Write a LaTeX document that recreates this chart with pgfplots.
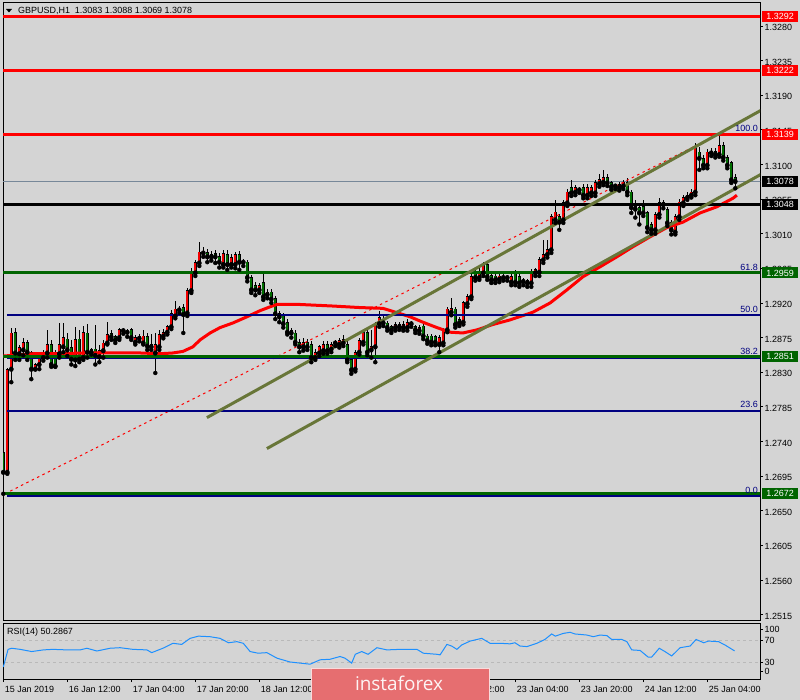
\documentclass[border=0pt]{standalone}
\usepackage{pgfplots}
\pgfplotsset{compat=1.18}
\usepackage{pgfplotstable}
\usepackage{fontspec}
\setmainfont{Liberation Sans}
\newfontfamily\logofont{Open Sans}
\newcommand\mt{\fontsize{9}{10}\selectfont}

\definecolor{chartbg}{RGB}{212,212,212}
\definecolor{bull}{RGB}{240,0,0}
\definecolor{bear}{RGB}{0,110,0}
\definecolor{lvlgreen}{RGB}{0,100,0}
\definecolor{fibblue}{RGB}{0,0,128}
\definecolor{chan}{RGB}{104,118,56}
\definecolor{slate}{RGB}{119,136,153}
\definecolor{rsiblue}{RGB}{30,144,255}
\definecolor{logored}{RGB}{230,110,112}

% GBPUSD H1, bar index 0 = 15 Jan 20:00
\pgfplotstableread{
i o h l c
0 1.2726 1.2730 1.2672 1.2700
1 1.2700 1.2836 1.2698 1.2833
2 1.2834 1.2888 1.2817 1.2881
3 1.2882 1.2888 1.2846 1.2855
4 1.2854 1.2866 1.2846 1.2862
5 1.2859 1.2875 1.2852 1.2869
6 1.2869 1.2872 1.2846 1.2856
7 1.2856 1.2857 1.2821 1.2834
8 1.2834 1.2842 1.2834 1.2840
9 1.2840 1.2851 1.2834 1.2849
10 1.2849 1.2859 1.2845 1.2855
11 1.2855 1.2885 1.2849 1.2866
12 1.2866 1.2872 1.2837 1.2840
13 1.2854 1.2859 1.2837 1.2838
14 1.2854 1.2894 1.2849 1.2866
15 1.2863 1.2894 1.2856 1.2875
16 1.2873 1.2881 1.2851 1.2859
17 1.2862 1.2872 1.2840 1.2847
18 1.2846 1.2889 1.2838 1.2872
19 1.2873 1.2885 1.2843 1.2847
20 1.2849 1.2890 1.2846 1.2882
21 1.2881 1.2893 1.2849 1.2856
22 1.2856 1.2862 1.2853 1.2859
23 1.2860 1.2892 1.2840 1.2852
24 1.2850 1.2866 1.2843 1.2858
25 1.2858 1.2872 1.2849 1.2868
26 1.2868 1.2895 1.2866 1.2879
27 1.2880 1.2885 1.2872 1.2876
28 1.2876 1.2879 1.2868 1.2872
29 1.2875 1.2888 1.2872 1.2885
30 1.2884 1.2887 1.2880 1.2884
31 1.2882 1.2886 1.2876 1.2882
32 1.2885 1.2888 1.2872 1.2875
33 1.2869 1.2879 1.2866 1.2875
34 1.2874 1.2880 1.2870 1.2876
35 1.2868 1.2885 1.2866 1.2877
36 1.2876 1.2881 1.2859 1.2864
37 1.2866 1.2880 1.2859 1.2863
38 1.2855 1.2881 1.2829 1.2866
39 1.2863 1.2885 1.2859 1.2879
40 1.2877 1.2886 1.2874 1.2882
41 1.2882 1.2892 1.2879 1.2889
42 1.2889 1.2911 1.2886 1.2906
43 1.2903 1.2923 1.2900 1.2912
44 1.2911 1.2916 1.2907 1.2912
45 1.2914 1.2918 1.2881 1.2905
46 1.2907 1.2940 1.2903 1.2936
47 1.2936 1.2966 1.2933 1.2960
48 1.2959 1.2976 1.2955 1.2972
49 1.2972 1.2999 1.2968 1.2986
50 1.2985 1.2993 1.2980 1.2987
51 1.2985 1.2990 1.2973 1.2980
52 1.2980 1.2988 1.2975 1.2983
53 1.2984 1.2989 1.2972 1.2980
54 1.2980 1.2985 1.2966 1.2973
55 1.2970 1.2989 1.2966 1.2984
56 1.2983 1.2989 1.2963 1.2970
57 1.2970 1.2984 1.2966 1.2979
58 1.2970 1.2986 1.2965 1.2983
59 1.2983 1.2988 1.2963 1.2973
60 1.2973 1.2977 1.2968 1.2973
61 1.2973 1.2976 1.2948 1.2953
62 1.2953 1.2956 1.2933 1.2937
63 1.2943 1.2947 1.2930 1.2937
64 1.2937 1.2946 1.2933 1.2943
65 1.2946 1.2959 1.2924 1.2928
66 1.2931 1.2938 1.2926 1.2934
67 1.2934 1.2938 1.2920 1.2925
68 1.2926 1.2929 1.2899 1.2906
69 1.2906 1.2910 1.2895 1.2902
70 1.2903 1.2907 1.2888 1.2893
71 1.2895 1.2899 1.2879 1.2882
72 1.2884 1.2888 1.2875 1.2881
73 1.2881 1.2885 1.2866 1.2869
74 1.2869 1.2873 1.2856 1.2863
75 1.2863 1.2875 1.2858 1.2869
76 1.2869 1.2873 1.2859 1.2863
77 1.2866 1.2870 1.2843 1.2849
78 1.2849 1.2860 1.2846 1.2856
79 1.2855 1.2866 1.2851 1.2863
80 1.2858 1.2870 1.2854 1.2866
81 1.2866 1.2870 1.2854 1.2858
82 1.2860 1.2869 1.2856 1.2866
83 1.2868 1.2872 1.2864 1.2868
84 1.2866 1.2874 1.2862 1.2871
85 1.2868 1.2879 1.2864 1.2872
86 1.2866 1.2870 1.2843 1.2846
87 1.2846 1.2849 1.2828 1.2833
88 1.2834 1.2859 1.2831 1.2856
89 1.2856 1.2875 1.2853 1.2871
90 1.2869 1.2886 1.2866 1.2882
91 1.2882 1.2885 1.2852 1.2856
92 1.2859 1.2885 1.2849 1.2863
93 1.2863 1.2895 1.2843 1.2892
94 1.2893 1.2910 1.2889 1.2901
95 1.2899 1.2903 1.2890 1.2894
96 1.2894 1.2897 1.2884 1.2888
97 1.2889 1.2892 1.2881 1.2885
98 1.2888 1.2895 1.2884 1.2892
99 1.2889 1.2895 1.2885 1.2892
100 1.2888 1.2896 1.2884 1.2892
101 1.2888 1.2899 1.2884 1.2895
102 1.2893 1.2897 1.2889 1.2893
103 1.2889 1.2892 1.2881 1.2885
104 1.2884 1.2891 1.2880 1.2888
105 1.2890 1.2893 1.2873 1.2877
106 1.2877 1.2880 1.2867 1.2871
107 1.2877 1.2880 1.2865 1.2869
108 1.2876 1.2879 1.2865 1.2869
109 1.2866 1.2878 1.2856 1.2875
110 1.2868 1.2888 1.2865 1.2885
111 1.2885 1.2915 1.2882 1.2912
112 1.2908 1.2926 1.2904 1.2913
113 1.2912 1.2915 1.2888 1.2892
114 1.2898 1.2902 1.2890 1.2894
115 1.2895 1.2923 1.2892 1.2920
116 1.2919 1.2932 1.2915 1.2928
117 1.2928 1.2958 1.2925 1.2954
118 1.2960 1.2964 1.2949 1.2953
119 1.2953 1.2966 1.2950 1.2960
120 1.2959 1.2973 1.2955 1.2970
121 1.2970 1.2973 1.2950 1.2954
122 1.2956 1.2960 1.2946 1.2950
123 1.2955 1.2958 1.2946 1.2950
124 1.2951 1.2958 1.2947 1.2955
125 1.2953 1.2957 1.2949 1.2953
126 1.2953 1.2956 1.2949 1.2953
127 1.2947 1.2958 1.2943 1.2954
128 1.2958 1.2963 1.2943 1.2947
129 1.2954 1.2958 1.2941 1.2946
130 1.2948 1.2952 1.2943 1.2948
131 1.2949 1.2951 1.2941 1.2946
132 1.2946 1.2964 1.2941 1.2960
133 1.2959 1.2966 1.2955 1.2963
134 1.2960 1.2980 1.2955 1.2976
135 1.2976 1.3002 1.2972 1.2983
136 1.2983 1.3002 1.2979 1.2989
137 1.2989 1.3036 1.2985 1.3032
138 1.3028 1.3054 1.3024 1.3038
139 1.3032 1.3036 1.3015 1.3025
140 1.3028 1.3054 1.3024 1.3050
141 1.3050 1.3068 1.3046 1.3064
142 1.3070 1.3080 1.3059 1.3063
143 1.3064 1.3073 1.3060 1.3070
144 1.3067 1.3071 1.3063 1.3067
145 1.3070 1.3074 1.3056 1.3060
146 1.3060 1.3074 1.3056 1.3070
147 1.3063 1.3073 1.3059 1.3070
148 1.3063 1.3080 1.3059 1.3076
149 1.3075 1.3087 1.3071 1.3080
150 1.3077 1.3093 1.3073 1.3083
151 1.3083 1.3087 1.3072 1.3076
152 1.3076 1.3079 1.3067 1.3071
153 1.3072 1.3075 1.3068 1.3072
154 1.3070 1.3077 1.3066 1.3074
155 1.3072 1.3080 1.3068 1.3077
156 1.3076 1.3083 1.3060 1.3064
157 1.3064 1.3067 1.3037 1.3044
158 1.3045 1.3054 1.3031 1.3042
159 1.3044 1.3047 1.3022 1.3037
160 1.3045 1.3054 1.3033 1.3037
161 1.3037 1.3040 1.3012 1.3018
162 1.3022 1.3025 1.3010 1.3015
163 1.3015 1.3038 1.3010 1.3035
164 1.3035 1.3057 1.3031 1.3050
165 1.3048 1.3054 1.3043 1.3050
166 1.3041 1.3045 1.3020 1.3024
167 1.3024 1.3028 1.3009 1.3015
168 1.3012 1.3036 1.3009 1.3032
169 1.3032 1.3055 1.3028 1.3051
170 1.3050 1.3060 1.3046 1.3057
171 1.3057 1.3064 1.3054 1.3060
172 1.3060 1.3068 1.3057 1.3064
173 1.3064 1.3128 1.3060 1.3122
174 1.3116 1.3123 1.3093 1.3108
175 1.3108 1.3112 1.3095 1.3099
176 1.3099 1.3120 1.3095 1.3116
177 1.3115 1.3121 1.3111 1.3117
178 1.3117 1.3121 1.3109 1.3113
179 1.3113 1.3139 1.3110 1.3125
180 1.3125 1.3129 1.3105 1.3109
181 1.3109 1.3112 1.3095 1.3099
182 1.3102 1.3105 1.3076 1.3080
183 1.3083 1.3088 1.3069 1.3078
}\candles

% moving average
\pgfplotstableread{
i v
0 1.2851
7.4 1.2854
14.2 1.2854
20 1.2855
28.4 1.2855
34.2 1.2855
39.2 1.2854
42.4 1.2855
44.9 1.2857
47.4 1.2863
49.2 1.2872
51.7 1.2881
54.2 1.2888
57.4 1.2894
60.9 1.2902
64.2 1.2910
66.7 1.2915
68.4 1.2918
74.2 1.2918
82.4 1.2916
89.2 1.2914
94.9 1.2913
97.4 1.2909
101.7 1.2902
104.9 1.2895
108.4 1.2888
111.7 1.2882
114.9 1.2881
118.4 1.2885
122.4 1.2892
126.7 1.2898
132.4 1.2908
136.7 1.2920
140.9 1.2937
144.9 1.2954
149.2 1.2967
153.4 1.2980
157.4 1.2993
161.7 1.3006
165.9 1.3018
169.9 1.3025
174.2 1.3037
178.4 1.3045
182.4 1.3056
183.4 1.3060
}\ma

% RSI(14)
\pgfplotstableread{
i v
0 21
1.2 53
2.1 55
4.2 53
7.1 49
10 52
12.4 53
15.9 52
19.2 52
20.9 55
23.4 50
26.7 55
29.2 56
32.4 53
35.9 52
37.1 47
39.9 55
42.4 64
44.6 62
46.7 73
48.8 77
51.7 76
54.2 73
56.3 65
58.4 67
60 64
61.7 49
63.7 46
65.9 47
68.4 37
71.7 30
74.2 28
76.7 26
79.2 34
81.7 35
84.2 40
85.4 37
87.1 28
88 44
89.6 49
91.2 44
93.4 56
95.9 52
99.2 53
103.4 53
105 46
108.4 44
109.2 43
110.9 62
112.1 59
113.4 53
114.6 61
116.7 68
119.6 73
121.7 64
124.2 64
126.7 63
127.9 65
129.2 59
130.9 58
133.4 64
135.4 71
137.1 81
138 77
140 82
141.7 84
142.9 81
145.9 79
147.5 76
149.2 79
150.9 78
152.1 71
154.6 71
155.9 67
157.1 52
159.2 51
161.2 39
162.1 39
164 55
165.4 49
167.1 41
169.2 56
171.7 59
173.2 71
175.1 65
176.3 68
178.8 67
180.4 61
182.8 50.2867
}\rsi

\pgfplotsset{
  mtpanel/.style={
    scale only axis, width=757bp,
    xmin=-0.075, xmax=189.175,
    axis line style={black, line width=0.8bp},
    tick style={black, line width=0.8bp},
    tick align=outside, major tick length=3bp,
    ticklabel style={font=\mt, text=black},
    ytick pos=right, yticklabel pos=right,
  },
  eb/.style 2 args={only marks, mark=none,
    error bars/y dir=plus, error bars/y explicit,
    error bars/error mark=none,
    error bars/error bar style={#1, line width=#2}},
  hl/.style={line width=3bp},
}
\tikzset{
  lbl/.style={anchor=west, inner sep=0pt, minimum width=36bp,
    minimum height=11bp, font=\mt, text=white},
  fib/.style={anchor=south east, inner sep=0pt, font=\mt, text=fibblue},
}

\begin{document}
\begin{tikzpicture}
\useasboundingbox (0,0) rectangle (800bp,700bp);
\fill[chartbg] (0,0) rectangle (800bp,700bp);

\begin{axis}[mtpanel, at={(3bp,80bp)}, anchor=south west, height=618bp,
  ymin=1.2508, ymax=1.33111, xtick=\empty,
  ytick={1.2515,1.2560,1.2605,1.2650,1.2695,1.2740,1.2785,1.2830,1.2875,
         1.2920,1.2965,1.3010,1.3055,1.3100,1.3145,1.3190,1.3235,1.3280},
  yticklabels={1.2515,1.2560,1.2605,1.2650,1.2695,1.2740,1.2785,1.2830,1.2875,
         1.2920,1.2965,1.3010,1.3055,1.3100,1.3145,1.3190,1.3235,1.3280},
  yticklabel style={anchor=west, inner sep=1.5bp, yshift=-1.5bp},
  restrict x to domain=-10:300]

\addplot[slate, line width=1bp] coordinates {(-1,1.3078) (190,1.3078)};

% candles
\addplot[eb={black}{1bp}] table[x=i, y=l,
  y error plus expr={\thisrow{h}-\thisrow{l}}] {\candles};
\addplot[eb={black}{3.3bp}] table[x=i,
  y expr={min(\thisrow{o},\thisrow{c})-0.00006},
  y error plus expr={abs(\thisrow{c}-\thisrow{o})+0.00012}] {\candles};
\addplot[eb={bull}{1.8bp}] table[
  x expr={(\thisrow{c}>\thisrow{o}) ? \thisrow{i} : 1000},
  y expr={min(\thisrow{o},\thisrow{c})+0.00004},
  y error plus expr={max(abs(\thisrow{c}-\thisrow{o})-0.00008,0)}] {\candles};
\addplot[eb={bear}{1.8bp}] table[
  x expr={(\thisrow{c}>\thisrow{o}) ? 1000 : \thisrow{i}},
  y expr={min(\thisrow{o},\thisrow{c})+0.00004},
  y error plus expr={max(abs(\thisrow{c}-\thisrow{o})-0.00008,0)}] {\candles};

% moving average
\addplot[red, line width=3bp] table[x=i, y=v] {\ma};

% fibonacci
\addplot[red, line width=1bp, dash pattern=on 2.5bp off 3.5bp]
  coordinates {(0.4,1.2672) (178.7,1.3139)};
\addplot[fibblue, line width=2bp] coordinates {(1,1.2669) (190,1.2669)};
\addplot[fibblue, line width=2bp] coordinates {(1,1.2780) (190,1.2780)};
\addplot[fibblue, line width=2bp] coordinates {(1,1.2849) (190,1.2849)};
\addplot[fibblue, line width=2bp] coordinates {(1,1.2904) (190,1.2904)};
\addplot[fibblue, line width=2bp] coordinates {(1,1.2959) (190,1.2959)};
\addplot[fibblue, line width=2bp] coordinates {(1,1.3139) (190,1.3139)};

% horizontal levels
\addplot[red, hl] coordinates {(-1,1.3292) (190,1.3292)};
\addplot[red, hl] coordinates {(-1,1.3222) (190,1.3222)};
\addplot[red, hl] coordinates {(-1,1.3139) (190,1.3139)};
\addplot[black, hl] coordinates {(-1,1.3048) (190,1.3048)};
\addplot[lvlgreen, hl] coordinates {(-1,1.2959) (190,1.2959)};
\addplot[lvlgreen, hl] coordinates {(-1,1.2851) (190,1.2851)};
\addplot[lvlgreen, hl] coordinates {(-1,1.2672) (190,1.2672)};

% channel
\addplot[chan, line width=3bp] coordinates {(50.9,1.2771) (190,1.3172)};
\addplot[chan, line width=3bp] coordinates {(65.9,1.27308) (190,1.30888)};

\coordinate (L3292) at (axis cs:189.175,1.3292);
\coordinate (L3222) at (axis cs:189.175,1.3222);
\coordinate (L3139) at (axis cs:189.175,1.3139);
\coordinate (L3078) at (axis cs:189.175,1.3078);
\coordinate (L3048) at (axis cs:189.175,1.3048);
\coordinate (L2959) at (axis cs:189.175,1.2959);
\coordinate (L2851) at (axis cs:189.175,1.2851);
\coordinate (L2672) at (axis cs:189.175,1.2672);
\coordinate (F100) at (axis cs:188.7,1.3139);
\coordinate (F618) at (axis cs:188.7,1.2959);
\coordinate (F500) at (axis cs:188.7,1.2904);
\coordinate (F382) at (axis cs:188.7,1.2849);
\coordinate (F236) at (axis cs:188.7,1.2780);
\coordinate (F000) at (axis cs:188.7,1.2669);
\end{axis}

% RSI panel
\begin{axis}[mtpanel, at={(3bp,21bp)}, anchor=south west, height=56bp,
  ymin=-0.91, ymax=100.91,
  ytick={90,70,30,12}, yticklabels={100,70,30,0},
  yticklabel style={anchor=west, inner sep=1.5bp},
  xtick={0,16,32,48,64,80,96,112,128,144,160,176},
  xticklabels={15 Jan 2019,16 Jan 12:00,17 Jan 04:00,17 Jan 20:00,18 Jan 12:00,
    21 Jan 04:00,21 Jan 20:00,22 Jan 12:00,23 Jan 04:00,23 Jan 20:00,
    24 Jan 12:00,25 Jan 04:00},
  xtick pos=bottom,
  xticklabel style={anchor=north west, xshift=-2bp, yshift=-0.5bp}]
\addplot[gray!55, line width=0.8bp, dash pattern=on 3bp off 3bp]
  coordinates {(-1,70) (190,70)};
\addplot[gray!55, line width=0.8bp, dash pattern=on 3bp off 3bp]
  coordinates {(-1,30) (190,30)};
\addplot[rsiblue, line width=1bp] table[x=i, y=v] {\rsi};
\end{axis}
\node[anchor=west, font=\mt, inner sep=0pt] at (7bp,68bp) {RSI(14) 50.2867};

% price labels
\node[lbl, fill=red] at ([xshift=2bp]L3292) {1.3292};
\node[lbl, fill=red] at ([xshift=2bp]L3222) {1.3222};
\node[lbl, fill=red] at ([xshift=2bp]L3139) {1.3139};
\node[lbl, fill=black] at ([xshift=2bp]L3078) {1.3078};
\node[lbl, fill=black] at ([xshift=2bp]L3048) {1.3048};
\node[lbl, fill=lvlgreen] at ([xshift=2bp]L2959) {1.2959};
\node[lbl, fill=lvlgreen] at ([xshift=2bp]L2851) {1.2851};
\node[lbl, fill=lvlgreen] at ([xshift=2bp]L2672) {1.2672};

% fibonacci level names
\node[fib] at ([yshift=2.5bp]F100) {100.0};
\node[fib] at ([yshift=2.5bp]F618) {61.8};
\node[fib] at ([yshift=2.5bp]F500) {50.0};
\node[fib] at ([yshift=2.5bp]F382) {38.2};
\node[fib] at ([yshift=2.5bp]F236) {23.6};
\node[fib] at ([yshift=2.5bp]F000) {0.0};

% title
\fill[black] (6bp,691bp) -- (12bp,691bp) -- (9bp,687.5bp) -- cycle;
\node[anchor=west, font=\mt, inner sep=0pt] at (18bp,689.5bp)
  {GBPUSD,H1\ \ 1.3083 1.3088 1.3069 1.3078};

% watermark
\fill[logored] (311bp,-1bp) rectangle (489bp,31.7bp);
\draw[white!75!logored, line width=1bp] (311bp,-1bp) -- (311bp,31.7bp)
  -- (489bp,31.7bp) -- (489bp,-1bp);
\node[anchor=base, inner sep=0pt, text=white!92!logored,
  font=\logofont\fontsize{19}{19}\selectfont] at (399bp,9.3bp) {instaforex};
\end{tikzpicture}
\end{document}
